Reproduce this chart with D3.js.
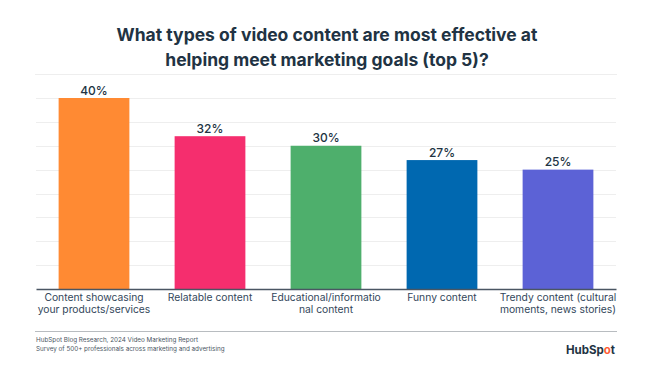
<!DOCTYPE html>
<html><head><meta charset="utf-8">
<script src="https://cdn.jsdelivr.net/npm/d3@7"></script>
<style>body{margin:0;background:#fff;} svg{display:block;font-family:Inter, "Noto Sans", sans-serif;}</style>
</head><body>
<svg id="c" width="653" height="368"></svg>
<script>
const categories = ["Content showcasing\nyour products/services","Relatable content","Educational/informatio\nnal content","Funny content","Trendy content (cultural\nmoments, news stories)"];
const values = [40,32,30,27,25];
const colors = ["#FF8A33","#F52E6E","#4EAF6C","#0068B0","#5C62D6"];
const yTicks = [0,5,10,15,20,25,30,35,40];
const titleLines = ["What types of video content are most effective at","helping meet marketing goals (top 5)?"];
const footerLines = ["HubSpot Blog Research, 2024 Video Marketing Report","Survey of 500+ professionals across marketing and advertising"];

const svg = d3.select("#c");
const x = d3.scaleBand().domain(categories).range([36,616]).paddingInner(0.39).paddingOuter(0.195);
const y = d3.scaleLinear().domain([0,40]).range([289,98]);

svg.append("g").selectAll("text").data(titleLines).join("text")
  .attr("x",327).attr("y",(d,i)=>41+i*24.5).attr("text-anchor","middle")
  .attr("font-size",17.5).attr("font-weight",700).attr("fill","#213343").text(d=>d);

svg.append("line").attr("x1",35).attr("x2",617).attr("y1",74.5).attr("y2",74.5).attr("stroke","#eeeeee");

svg.append("g").selectAll("line").data(yTicks.slice(1)).join("line")
  .attr("x1",36).attr("x2",616).attr("y1",d=>Math.round(y(d))+0.5).attr("y2",d=>Math.round(y(d))+0.5)
  .attr("stroke","#eeeeee");

svg.append("g").selectAll("rect").data(values).join("rect")
  .attr("x",(d,i)=>x(categories[i])).attr("width",x.bandwidth())
  .attr("y",d=>y(d)).attr("height",d=>y(0)-y(d)).attr("fill",(d,i)=>colors[i]);

svg.append("g").selectAll("text").data(values).join("text")
  .attr("x",(d,i)=>x(categories[i])+x.bandwidth()/2).attr("y",d=>y(d)-3.5)
  .attr("text-anchor","middle").attr("font-size",12).attr("font-weight",500).attr("fill","#213343").text(d=>d+"%");

const ax = svg.append("g").attr("transform","translate(0,289)").call(d3.axisBottom(x).tickSize(0).tickFormat(""));
ax.select(".domain").attr("stroke","#4a5663").attr("stroke-width",1.3);

const lbl = [];
categories.forEach(c=>c.split("\n").forEach((l,i)=>lbl.push({c,l,i})));
svg.append("g").selectAll("text").data(lbl).join("text")
  .attr("x",d=>x(d.c)+x.bandwidth()/2).attr("y",d=>300.5+d.i*12.2).attr("text-anchor","middle")
  .attr("font-size",10.3).attr("fill","#33475b").text(d=>d.l);

svg.append("line").attr("x1",35).attr("x2",617).attr("y1",331.5).attr("y2",331.5).attr("stroke","#b8bcc0");

svg.append("g").selectAll("text").data(footerLines).join("text")
  .attr("x",36).attr("y",(d,i)=>342+i*9).attr("font-size",6.3).attr("fill","#4a5663").text(d=>d);

const logo = svg.append("text").attr("x",615).attr("y",353.5).attr("text-anchor","end")
  .attr("font-size",11.5).attr("font-weight",700).attr("fill","#213343");
logo.append("tspan").text("HubSp");
logo.append("tspan").attr("fill","#FF5C35").text("o");
logo.append("tspan").text("t");
</script>
</body></html>
